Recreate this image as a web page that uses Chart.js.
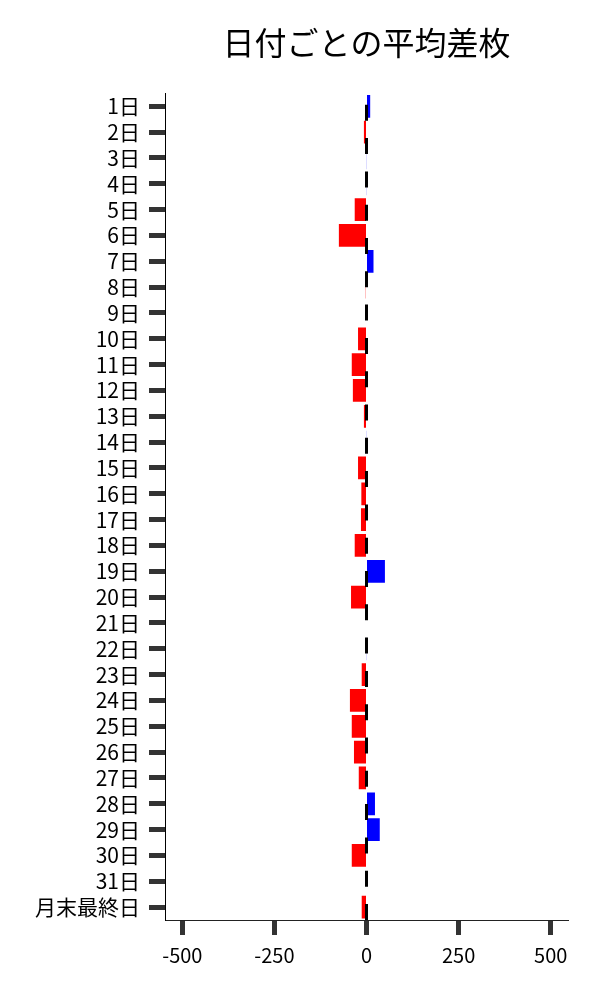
<!DOCTYPE html>
<html>
<head>
<meta charset="utf-8">
<script src="https://cdn.jsdelivr.net/npm/chart.js@4.4.0/dist/chart.umd.min.js"></script>
<style>
html,body{margin:0;padding:0;background:#fff;}
#wrap{width:600px;height:1000px;}
</style>
</head>
<body>
<div id="wrap"><canvas id="c" width="600" height="1000"></canvas></div>
<script>
const categories = ["1日","2日","3日","4日","5日","6日","7日","8日","9日","10日","11日","12日","13日","14日","15日","16日","17日","18日","19日","20日","21日","22日","23日","24日","25日","26日","27日","28日","29日","30日","31日","月末最終日"];
const avgDiff = [10,-7,1,1,-32,-75,19,-2,0,-23,-40,-37,-7,1,-23,-14,-15,-32,50,-42,0,1,-13,-45,-40,-34,-21,23,36,-40,0,-13];
const xTickValues = [-500,-250,0,250,500];
const titleText = "日付ごとの平均差枚";

const FONT = "'Noto Sans CJK JP','Noto Sans',sans-serif";

const zeroLine = {
  id: 'zeroLine',
  afterDatasetsDraw(chart) {
    const ctx = chart.ctx;
    const xs = chart.scales.x;
    const area = chart.chartArea;
    const x = xs.getPixelForValue(0);
    ctx.save();
    ctx.strokeStyle = '#000';
    ctx.lineWidth = 3;
    ctx.setLineDash([16, 17.3]);
    ctx.beginPath();
    ctx.moveTo(x, area.bottom);
    ctx.lineTo(x, area.top);
    ctx.stroke();
    ctx.restore();
  }
};

new Chart(document.getElementById('c'), {
  type: 'bar',
  data: {
    labels: categories,
    datasets: [{
      data: avgDiff,
      backgroundColor: avgDiff.map(v => v < 0 ? '#ff0000' : '#0000ff'),
      borderWidth: 0,
      barPercentage: 0.88,
      categoryPercentage: 1.0
    }]
  },
  options: {
    indexAxis: 'y',
    responsive: false,
    animation: false,
    devicePixelRatio: 1,
    layout: { padding: { left: 0, right: 32, top: 0, bottom: 0 } },
    plugins: {
      legend: { display: false },
      tooltip: { enabled: false },
      title: {
        display: true,
        text: titleText,
        fullSize: false,
        color: '#000',
        font: { family: FONT, size: 32, weight: 'normal', lineHeight: 1.2 },
        padding: { top: 24, bottom: 31 }
      }
    },
    scales: {
      x: {
        type: 'linear',
        min: -547,
        max: 547,
        afterBuildTicks: s => { s.ticks = xTickValues.map(v => ({ value: v })); },
        afterFit: s => { s.height = 80; },
        grid: {
          drawOnChartArea: false,
          drawTicks: true,
          tickLength: 15,
          tickWidth: 5,
          tickColor: '#333'
        },
        border: { display: true, color: '#222', width: 1 },
        ticks: {
          color: '#000',
          padding: 8,
          font: { family: FONT, size: 20 },
          maxRotation: 0
        }
      },
      y: {
        type: 'category',
        afterFit: s => { s.width = 165; },
        grid: {
          offset: false,
          drawOnChartArea: false,
          drawTicks: true,
          tickLength: 16,
          tickWidth: 5,
          tickColor: '#333'
        },
        border: { display: true, color: '#000', width: 1 },
        ticks: {
          color: '#000',
          padding: 9,
          autoSkip: false,
          font: { family: FONT, size: 21 }
        }
      }
    }
  },
  plugins: [zeroLine]
});
</script>
</body>
</html>
